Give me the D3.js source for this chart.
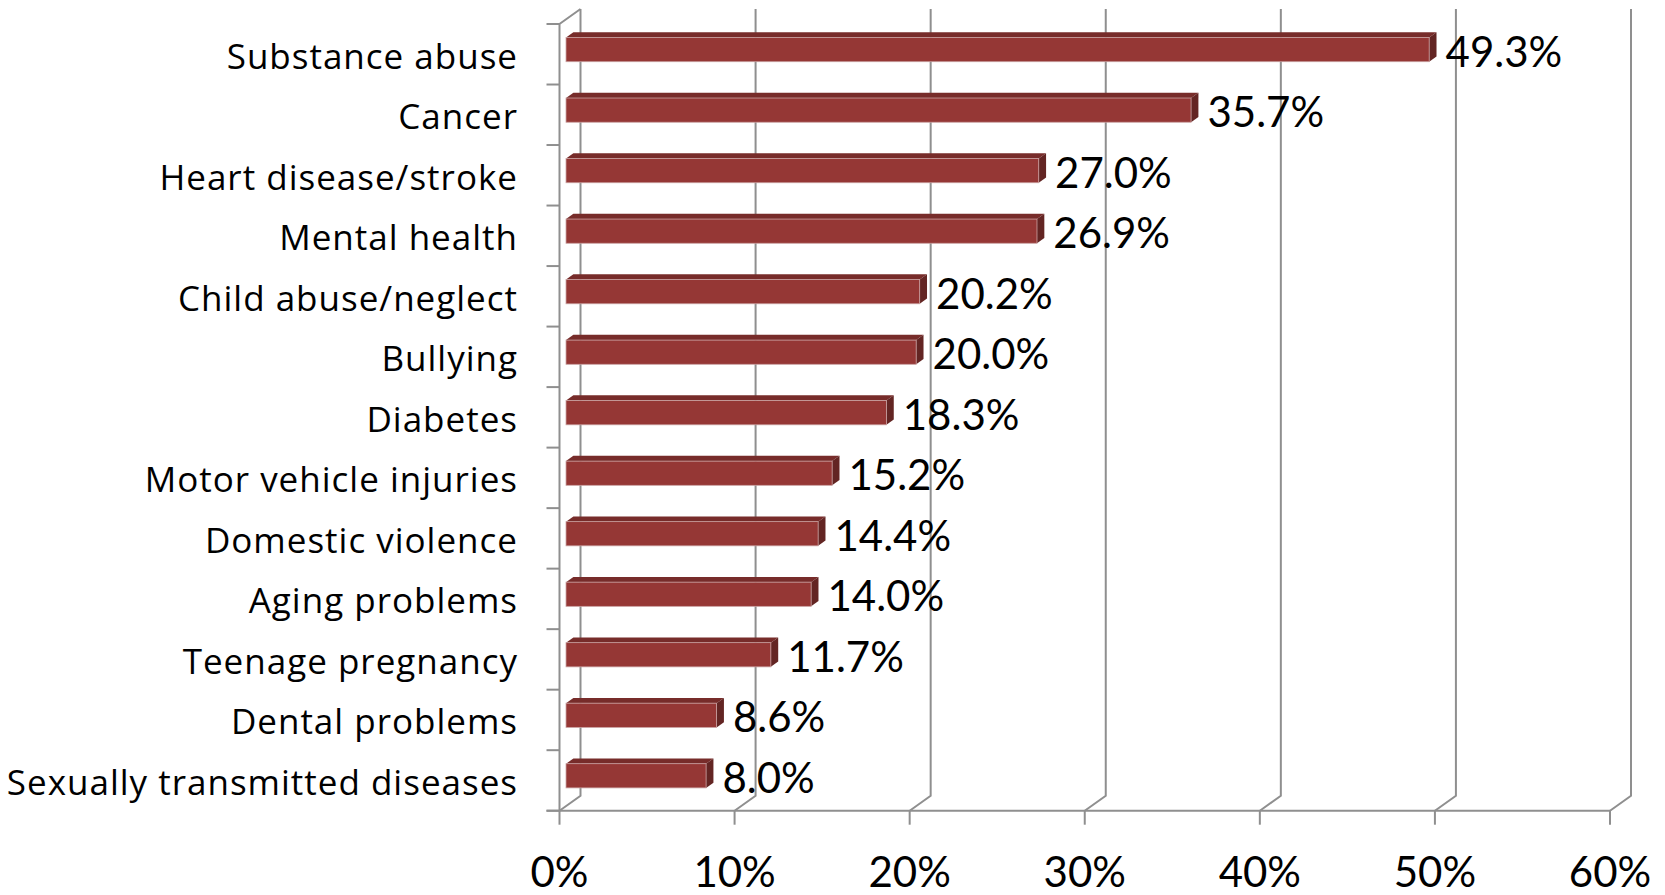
<!DOCTYPE html>
<html>
<head>
<meta charset="utf-8">
<script src="https://cdn.jsdelivr.net/npm/d3@7"></script>
<style>
  html, body { margin: 0; padding: 0; background: #fff; }
  svg { display: block; }
  text { font-family: Lato, "Open Sans", sans-serif; fill: #000; }
  text.cat { font-family: "Open Sans", Lato, sans-serif; letter-spacing: 1px; }
</style>
</head>
<body>
<svg id="chart" width="1665" height="895"></svg>
<script>
// ---- data ----
const categories = [
  "Substance abuse", "Cancer", "Heart disease/stroke", "Mental health",
  "Child abuse/neglect", "Bullying", "Diabetes", "Motor vehicle injuries",
  "Domestic violence", "Aging problems", "Teenage pregnancy",
  "Dental problems", "Sexually transmitted diseases"
];
const values = [49.3, 35.7, 27.0, 26.9, 20.2, 20.0, 18.3, 15.2, 14.4, 14.0, 11.7, 8.6, 8.0];
const xTicks = [0, 10, 20, 30, 40, 50, 60];
const xTickLabels = ["0%", "10%", "20%", "30%", "40%", "50%", "60%"];

// ---- layout ----
const svg = d3.select("#chart");
const x = d3.scaleLinear().domain([0, 60]).range([559.5, 1610]);
const y = d3.scaleBand().domain(categories).range([24, 810.7]).padding(0);
const DX = 21, DY = -15;       // depth offset of the back wall
const f0 = 0.31, f1 = 0.66;    // bar depth fractions
const barH = y.bandwidth() * 0.4;
const gridColor = "#8f8f8f";
const yTop = y.range()[0], yBot = y.range()[1];

const grid = svg.append("g").attr("fill", "none").attr("stroke", gridColor).attr("stroke-width", 2);

xTicks.forEach(t => {
  grid.append("path").attr("d",
    `M${x(t) + DX},${yTop + DY} L${x(t) + DX},${yBot + DY} L${x(t)},${yBot}`);
  grid.append("line").attr("x1", x(t)).attr("x2", x(t)).attr("y1", yBot).attr("y2", yBot + 14);
});
grid.append("path").attr("d",
  `M${x(0)},${yBot} L${x(0)},${yTop} L${x(0) + DX},${yTop + DY}`);
grid.append("line").attr("x1", x(0) - 13).attr("x2", x(60)).attr("y1", yBot).attr("y2", yBot);
const bounds = categories.map(c => y(c)).concat([yBot]);
bounds.forEach(b => {
  grid.append("line").attr("x1", x(0) - 13).attr("x2", x(0)).attr("y1", b).attr("y2", b);
});

// ---- bars ----
const bars = svg.append("g");
categories.forEach((c, i) => {
  const v = values[i];
  const yc = y(c) + y.bandwidth() / 2;
  const yt = yc - barH / 2, yb = yc + barH / 2;
  const x0 = x(0), x1 = x(v);
  const g = bars.append("g");
  g.append("path").attr("fill", "#772C2A").attr("d",
    `M${x0 + f0 * DX},${yt + f0 * DY} L${x1 + f0 * DX},${yt + f0 * DY} L${x1 + f1 * DX},${yt + f1 * DY} L${x0 + f1 * DX},${yt + f1 * DY} Z`);
  g.append("path").attr("fill", "#632523").attr("d",
    `M${x1 + f0 * DX},${yt + f0 * DY} L${x1 + f1 * DX},${yt + f1 * DY} L${x1 + f1 * DX},${yb + f1 * DY} L${x1 + f0 * DX},${yb + f0 * DY} Z`);
  g.append("rect").attr("fill", "#953735")
    .attr("stroke", "#c9a0a0").attr("stroke-width", 0.8)
    .attr("x", x0 + f0 * DX).attr("y", yt + f0 * DY)
    .attr("width", x1 - x0).attr("height", barH);
  svg.append("text")
    .attr("x", x1 + f1 * DX + 9)
    .attr("y", yc + f0 * DY + 17)
    .attr("font-size", 42)
    .text(d3.format(".1f")(v) + "%");
});

// ---- category labels ----
categories.forEach(c => {
  svg.append("text")
    .attr("class", "cat")
    .attr("x", 518)
    .attr("y", y(c) + y.bandwidth() / 2 + 14.5)
    .attr("text-anchor", "end")
    .attr("font-size", 35)
    .text(c);
});

// ---- x tick labels ----
xTicks.forEach((t, i) => {
  svg.append("text")
    .attr("x", x(t))
    .attr("y", 887)
    .attr("text-anchor", "middle")
    .attr("font-size", 42)
    .text(xTickLabels[i]);
});
</script>
</body>
</html>
